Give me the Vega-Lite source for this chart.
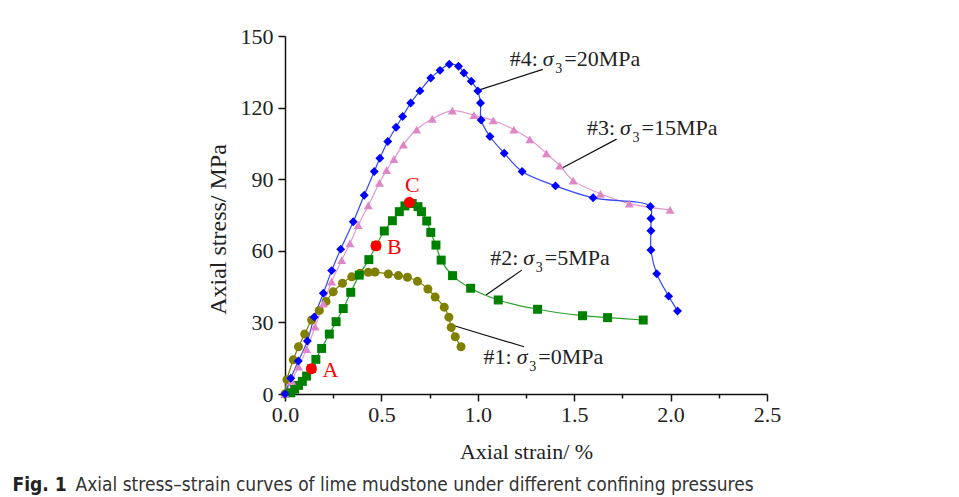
{
  "$schema": "https://vega.github.io/schema/vega-lite/v6.json",
  "width": 482,
  "height": 358,
  "autosize": {"type": "none"},
  "padding": {"left": 285, "top": 36, "right": 192, "bottom": 103},
  "background": "white",
  "config": {
    "view": {"stroke": null},
    "axis": {
      "domainColor": "#111", "domainWidth": 1.5, "tickColor": "#111", "tickWidth": 1.5,
      "labelFont": "Liberation Serif", "labelFontSize": 22, "labelColor": "#222",
      "titleFont": "Liberation Serif", "titleFontSize": 22, "titleFontWeight": "normal", "titleColor": "#222",
      "grid": false, "labelOverlap": false, "labelBound": false, "labelFlush": false
    },
    "text": {"font": "Liberation Serif"}
  },
  "resolve": {"axis": {"x": "independent"}},
  "datasets": {
    "curves": [
      {"s": "#1", "i": 1, "strain": 0, "stress": 0},
      {"s": "#1", "i": 2, "strain": 0.01, "stress": 6},
      {"s": "#1", "i": 3, "strain": 0.043, "stress": 14.3},
      {"s": "#1", "i": 4, "strain": 0.07, "stress": 19.8},
      {"s": "#1", "i": 5, "strain": 0.102, "stress": 25.1},
      {"s": "#1", "i": 6, "strain": 0.138, "stress": 31},
      {"s": "#1", "i": 7, "strain": 0.178, "stress": 35},
      {"s": "#1", "i": 8, "strain": 0.213, "stress": 38.8},
      {"s": "#1", "i": 9, "strain": 0.25, "stress": 42.8},
      {"s": "#1", "i": 10, "strain": 0.298, "stress": 46.4},
      {"s": "#1", "i": 11, "strain": 0.346, "stress": 49.1},
      {"s": "#1", "i": 12, "strain": 0.39, "stress": 50.6},
      {"s": "#1", "i": 13, "strain": 0.432, "stress": 51},
      {"s": "#1", "i": 14, "strain": 0.467, "stress": 51.1},
      {"s": "#1", "i": 15, "strain": 0.536, "stress": 50.3},
      {"s": "#1", "i": 16, "strain": 0.588, "stress": 49.6},
      {"s": "#1", "i": 17, "strain": 0.635, "stress": 48.9},
      {"s": "#1", "i": 18, "strain": 0.687, "stress": 47.2},
      {"s": "#1", "i": 19, "strain": 0.741, "stress": 44.0},
      {"s": "#1", "i": 20, "strain": 0.779, "stress": 40.6},
      {"s": "#1", "i": 21, "strain": 0.826, "stress": 36.4},
      {"s": "#1", "i": 22, "strain": 0.85, "stress": 32.2},
      {"s": "#1", "i": 23, "strain": 0.862, "stress": 27.9},
      {"s": "#1", "i": 24, "strain": 0.883, "stress": 24.0},
      {"s": "#1", "i": 25, "strain": 0.913, "stress": 19.8},
      {"s": "#2", "i": 1, "strain": 0.03, "stress": 0.5},
      {"s": "#2", "i": 2, "strain": 0.05, "stress": 2},
      {"s": "#2", "i": 3, "strain": 0.07, "stress": 3.6},
      {"s": "#2", "i": 4, "strain": 0.09, "stress": 5.3},
      {"s": "#2", "i": 5, "strain": 0.112, "stress": 7.5},
      {"s": "#2", "i": 6, "strain": 0.137, "stress": 10.6},
      {"s": "#2", "i": 7, "strain": 0.16, "stress": 14.5},
      {"s": "#2", "i": 8, "strain": 0.19, "stress": 19.1},
      {"s": "#2", "i": 9, "strain": 0.23, "stress": 25.1},
      {"s": "#2", "i": 10, "strain": 0.265, "stress": 30.3},
      {"s": "#2", "i": 11, "strain": 0.302, "stress": 35.8},
      {"s": "#2", "i": 12, "strain": 0.341, "stress": 42.6},
      {"s": "#2", "i": 13, "strain": 0.385, "stress": 49.8},
      {"s": "#2", "i": 14, "strain": 0.435, "stress": 56.3},
      {"s": "#2", "i": 15, "strain": 0.472, "stress": 62.1},
      {"s": "#2", "i": 16, "strain": 0.515, "stress": 68.3},
      {"s": "#2", "i": 17, "strain": 0.557, "stress": 72.6},
      {"s": "#2", "i": 18, "strain": 0.593, "stress": 76.4},
      {"s": "#2", "i": 19, "strain": 0.622, "stress": 78.8},
      {"s": "#2", "i": 20, "strain": 0.66, "stress": 79.8},
      {"s": "#2", "i": 21, "strain": 0.69, "stress": 78.5},
      {"s": "#2", "i": 22, "strain": 0.708, "stress": 76.4},
      {"s": "#2", "i": 23, "strain": 0.735, "stress": 72.5},
      {"s": "#2", "i": 24, "strain": 0.756, "stress": 67.7},
      {"s": "#2", "i": 25, "strain": 0.783, "stress": 62.4},
      {"s": "#2", "i": 26, "strain": 0.81, "stress": 56.1},
      {"s": "#2", "i": 27, "strain": 0.869, "stress": 49.6},
      {"s": "#2", "i": 28, "strain": 0.963, "stress": 44.3},
      {"s": "#2", "i": 29, "strain": 1.106, "stress": 39.4},
      {"s": "#2", "i": 30, "strain": 1.31, "stress": 35.5},
      {"s": "#2", "i": 31, "strain": 1.543, "stress": 32.8},
      {"s": "#2", "i": 32, "strain": 1.673, "stress": 32},
      {"s": "#2", "i": 33, "strain": 1.858, "stress": 31},
      {"s": "#3", "i": 1, "strain": 0, "stress": 0},
      {"s": "#3", "i": 2, "strain": 0.035, "stress": 5.5},
      {"s": "#3", "i": 3, "strain": 0.07, "stress": 11.5},
      {"s": "#3", "i": 4, "strain": 0.112, "stress": 18.8},
      {"s": "#3", "i": 5, "strain": 0.156, "stress": 28.2},
      {"s": "#3", "i": 6, "strain": 0.199, "stress": 37.9},
      {"s": "#3", "i": 7, "strain": 0.242, "stress": 47.1},
      {"s": "#3", "i": 8, "strain": 0.294, "stress": 56.1},
      {"s": "#3", "i": 9, "strain": 0.337, "stress": 63.1},
      {"s": "#3", "i": 10, "strain": 0.38, "stress": 70.8},
      {"s": "#3", "i": 11, "strain": 0.432, "stress": 79},
      {"s": "#3", "i": 12, "strain": 0.49, "stress": 88.5},
      {"s": "#3", "i": 13, "strain": 0.527, "stress": 93.8},
      {"s": "#3", "i": 14, "strain": 0.565, "stress": 98.4},
      {"s": "#3", "i": 15, "strain": 0.614, "stress": 104.5},
      {"s": "#3", "i": 16, "strain": 0.683, "stress": 110.8},
      {"s": "#3", "i": 17, "strain": 0.764, "stress": 115.3},
      {"s": "#3", "i": 18, "strain": 0.868, "stress": 118.7},
      {"s": "#3", "i": 19, "strain": 0.98, "stress": 116.8},
      {"s": "#3", "i": 20, "strain": 1.08, "stress": 114.6},
      {"s": "#3", "i": 21, "strain": 1.187, "stress": 110.8},
      {"s": "#3", "i": 22, "strain": 1.27, "stress": 106.7},
      {"s": "#3", "i": 23, "strain": 1.356, "stress": 100.8},
      {"s": "#3", "i": 24, "strain": 1.425, "stress": 95.7},
      {"s": "#3", "i": 25, "strain": 1.495, "stress": 89.4},
      {"s": "#3", "i": 26, "strain": 1.636, "stress": 83.9},
      {"s": "#3", "i": 27, "strain": 1.786, "stress": 79.8},
      {"s": "#3", "i": 28, "strain": 1.997, "stress": 77.1},
      {"s": "#4", "i": 1, "strain": 0, "stress": 0},
      {"s": "#4", "i": 2, "strain": 0.03, "stress": 6.6},
      {"s": "#4", "i": 3, "strain": 0.069, "stress": 13.8},
      {"s": "#4", "i": 4, "strain": 0.116, "stress": 22.2},
      {"s": "#4", "i": 5, "strain": 0.152, "stress": 32.3},
      {"s": "#4", "i": 6, "strain": 0.199, "stress": 42.2},
      {"s": "#4", "i": 7, "strain": 0.242, "stress": 51.7},
      {"s": "#4", "i": 8, "strain": 0.289, "stress": 60.7},
      {"s": "#4", "i": 9, "strain": 0.354, "stress": 72.2},
      {"s": "#4", "i": 10, "strain": 0.411, "stress": 83.3},
      {"s": "#4", "i": 11, "strain": 0.463, "stress": 93.2},
      {"s": "#4", "i": 12, "strain": 0.492, "stress": 98.8},
      {"s": "#4", "i": 13, "strain": 0.533, "stress": 105.8},
      {"s": "#4", "i": 14, "strain": 0.576, "stress": 111.8},
      {"s": "#4", "i": 15, "strain": 0.61, "stress": 116.3},
      {"s": "#4", "i": 16, "strain": 0.652, "stress": 121.9},
      {"s": "#4", "i": 17, "strain": 0.70, "stress": 127},
      {"s": "#4", "i": 18, "strain": 0.756, "stress": 132.4},
      {"s": "#4", "i": 19, "strain": 0.804, "stress": 135.6},
      {"s": "#4", "i": 20, "strain": 0.852, "stress": 138.2},
      {"s": "#4", "i": 21, "strain": 0.90, "stress": 137.3},
      {"s": "#4", "i": 22, "strain": 0.928, "stress": 134.5},
      {"s": "#4", "i": 23, "strain": 0.966, "stress": 131},
      {"s": "#4", "i": 24, "strain": 1.0, "stress": 127},
      {"s": "#4", "i": 25, "strain": 1.014, "stress": 121.9},
      {"s": "#4", "i": 26, "strain": 1.017, "stress": 114.8},
      {"s": "#4", "i": 27, "strain": 1.063, "stress": 107.9},
      {"s": "#4", "i": 28, "strain": 1.137, "stress": 100.9},
      {"s": "#4", "i": 29, "strain": 1.23, "stress": 93.2},
      {"s": "#4", "i": 30, "strain": 1.403, "stress": 87.2},
      {"s": "#4", "i": 31, "strain": 1.598, "stress": 82.2},
      {"s": "#4", "i": 32, "strain": 1.895, "stress": 78.6},
      {"s": "#4", "i": 33, "strain": 1.898, "stress": 73.5},
      {"s": "#4", "i": 34, "strain": 1.898, "stress": 68.4},
      {"s": "#4", "i": 35, "strain": 1.898, "stress": 60.3},
      {"s": "#4", "i": 36, "strain": 1.928, "stress": 50.4},
      {"s": "#4", "i": 37, "strain": 1.99, "stress": 41},
      {"s": "#4", "i": 38, "strain": 2.036, "stress": 34.8}
    ],
    "leaders": [
      {"x1": 1.008, "y1": 127.4, "x2": 1.337, "y2": 136.0},
      {"x1": 1.44, "y1": 94.8, "x2": 1.72, "y2": 106.8},
      {"x1": 1.043, "y1": 41.5, "x2": 1.228, "y2": 51.9},
      {"x1": 0.865, "y1": 28.9, "x2": 1.24, "y2": 19.8}
    ],
    "ann": [
      {"pre": "#4:", "post": "=20MPa", "x": 1.337, "y": 137.4},
      {"pre": "#3:", "post": "=15MPa", "x": 1.738, "y": 108.5},
      {"pre": "#2:", "post": "=5MPa", "x": 1.236, "y": 54.0},
      {"pre": "#1:", "post": "=0MPa", "x": 1.202, "y": 12.4}
    ],
    "pts": [
      {"lab": "A", "strain": 0.137, "stress": 10.6},
      {"lab": "B", "strain": 0.472, "stress": 62.1},
      {"lab": "C", "strain": 0.645, "stress": 80.3}
    ]
  },
  "layer": [
    {
      "data": {"name": "leaders"},
      "mark": {"type": "rule", "color": "#111", "strokeWidth": 1.2},
      "encoding": {
        "x": {"field": "x1", "type": "quantitative", "scale": {"domain": [0, 2.5]},
          "axis": {"title": "Axial strain/ %", "values": [0, 0.25, 0.5, 0.75, 1, 1.25, 1.5, 1.75, 2, 2.25, 2.5],
            "format": ".1f",
            "labelExpr": "abs(datum.value * 2 - round(datum.value * 2)) < 0.001 ? datum.label : ''",
            "tickSize": {"condition": {"test": "abs(datum.value * 2 - round(datum.value * 2)) < 0.001", "value": 7}, "value": 4},
            "labelPadding": 3, "titlePadding": 16}},
        "y": {"field": "y1", "type": "quantitative", "scale": {"domain": [0, 150]},
          "axis": {"title": "Axial stress/ MPa", "values": [0, 15, 30, 45, 60, 75, 90, 105, 120, 135, 150],
            "labelExpr": "datum.value % 30 === 0 ? datum.label : ''",
            "tickSize": {"condition": {"test": "datum.value % 30 === 0", "value": 7}, "value": 4},
            "labelPadding": 5, "titlePadding": 10, "titleFontSize": 24, "titleY": 193}},
        "x2": {"field": "x2"},
        "y2": {"field": "y2"}
      }
    },
    {
      "data": {"name": "curves"},
      "mark": {"type": "line", "strokeWidth": 1.2, "interpolate": "catmull-rom"},
      "encoding": {
        "x": {"field": "strain", "type": "quantitative", "scale": {"domain": [0, 2.5]}, "axis": null},
        "y": {"field": "stress", "type": "quantitative", "scale": {"domain": [0, 150]}},
        "color": {"field": "s", "type": "nominal", "scale": {"domain": ["#1", "#2", "#3", "#4"], "range": ["#808000", "#2ca02c", "#e597d2", "#3348ff"]}, "legend": null},
        "detail": {"field": "s"},
        "order": {"field": "i", "type": "quantitative"}
      }
    },
    {
      "data": {"name": "curves"},
      "mark": {"type": "point", "filled": true, "opacity": 1},
      "encoding": {
        "x": {"field": "strain", "type": "quantitative", "scale": {"domain": [0, 2.5]}, "axis": null},
        "y": {"field": "stress", "type": "quantitative", "scale": {"domain": [0, 150]}},
        "shape": {"field": "s", "type": "nominal", "scale": {"domain": ["#1", "#2", "#3", "#4"], "range": ["circle", "square", "triangle-up", "diamond"]}, "legend": null},
        "fill": {"field": "s", "type": "nominal", "scale": {"domain": ["#1", "#2", "#3", "#4"], "range": ["#808000", "#008000", "#df86c6", "#0000ff"]}, "legend": null},
        "size": {"field": "s", "type": "ordinal", "scale": {"domain": ["#1", "#2", "#3", "#4"], "range": [81, 80, 130, 150]}, "legend": null}
      }
    },
    {
      "data": {"name": "pts"},
      "mark": {"type": "point", "filled": true, "opacity": 1, "shape": "circle", "size": 121, "color": "#ff0000"},
      "encoding": {
        "x": {"field": "strain", "type": "quantitative", "scale": {"domain": [0, 2.5]},
          "axis": {"title": "Fig. 1", "orient": "bottom", "domain": false, "ticks": false, "labels": false,
            "titleFont": "Liberation Sans Narrow, DejaVu Sans Condensed, Open Sans", "titleFontSize": 19, "titleFontWeight": "bold",
            "titleColor": "#222", "titleAlign": "left", "titleBaseline": "alphabetic", "titleX": -273, "titleY": 96}},
        "y": {"field": "stress", "type": "quantitative", "scale": {"domain": [0, 150]}}
      }
    },
    {
      "data": {"name": "pts"},
      "transform": [{"filter": "datum.lab !== 'C'"}],
      "mark": {"type": "text", "align": "left", "baseline": "middle", "dx": 11, "dy": 1, "fontSize": 22, "color": "#ff0000"},
      "encoding": {
        "x": {"field": "strain", "type": "quantitative", "scale": {"domain": [0, 2.5]},
          "axis": {"title": "Axial stress\u2013strain curves of lime mudstone under different confining pressures", "orient": "bottom", "domain": false, "ticks": false, "labels": false,
            "titleFont": "Liberation Sans Narrow, DejaVu Sans Condensed, Open Sans", "titleFontSize": 19, "titleFontWeight": "normal",
            "titleColor": "#333", "titleAlign": "left", "titleBaseline": "alphabetic", "titleX": -210, "titleY": 96}},
        "y": {"field": "stress", "type": "quantitative", "scale": {"domain": [0, 150]}},
        "text": {"field": "lab"}
      }
    },
    {
      "data": {"name": "pts"},
      "transform": [{"filter": "datum.lab === 'C'"}],
      "mark": {"type": "text", "align": "center", "baseline": "alphabetic", "dx": 3, "dy": -10, "fontSize": 22, "color": "#ff0000"},
      "encoding": {
        "x": {"field": "strain", "type": "quantitative", "scale": {"domain": [0, 2.5]}, "axis": null},
        "y": {"field": "stress", "type": "quantitative", "scale": {"domain": [0, 150]}},
        "text": {"field": "lab"}
      }
    },
    {
      "data": {"name": "ann"},
      "mark": {"type": "text", "align": "right", "baseline": "alphabetic", "fontSize": 22, "dx": -5, "color": "#222"},
      "encoding": {
        "x": {"field": "x", "type": "quantitative", "scale": {"domain": [0, 2.5]}, "axis": null},
        "y": {"field": "y", "type": "quantitative", "scale": {"domain": [0, 150]}},
        "text": {"field": "pre"}
      }
    },
    {
      "data": {"name": "ann"},
      "mark": {"type": "text", "align": "left", "baseline": "alphabetic", "fontSize": 22, "fontStyle": "italic", "color": "#222", "text": "σ"},
      "encoding": {
        "x": {"field": "x", "type": "quantitative", "scale": {"domain": [0, 2.5]}, "axis": null},
        "y": {"field": "y", "type": "quantitative", "scale": {"domain": [0, 150]}}
      }
    },
    {
      "data": {"name": "ann"},
      "mark": {"type": "text", "align": "left", "baseline": "alphabetic", "fontSize": 14, "dx": 12.5, "dy": 7, "color": "#222", "text": "3"},
      "encoding": {
        "x": {"field": "x", "type": "quantitative", "scale": {"domain": [0, 2.5]}, "axis": null},
        "y": {"field": "y", "type": "quantitative", "scale": {"domain": [0, 150]}}
      }
    },
    {
      "data": {"name": "ann"},
      "mark": {"type": "text", "align": "left", "baseline": "alphabetic", "fontSize": 22, "dx": 21.5, "color": "#222"},
      "encoding": {
        "x": {"field": "x", "type": "quantitative", "scale": {"domain": [0, 2.5]}, "axis": null},
        "y": {"field": "y", "type": "quantitative", "scale": {"domain": [0, 150]}},
        "text": {"field": "post"}
      }
    }
  ]
}
